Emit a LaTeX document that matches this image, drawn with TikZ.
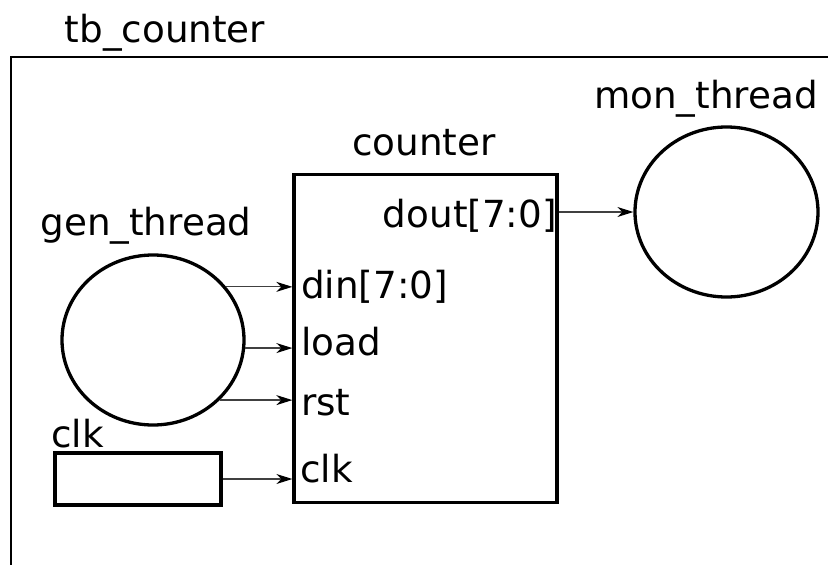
\documentclass[tikz,border=0pt]{standalone}
\usepackage{fontspec}
\setmainfont{DejaVu Sans}
\usetikzlibrary{arrows.meta,shapes.geometric}
\begin{document}
\begin{tikzpicture}[x=1pt,y=-1pt,
  lbl/.style={inner sep=0pt,font=\fontsize{37.3}{44}\selectfont},
  thread/.style={draw,line width=3.3pt,ellipse,inner sep=0pt},
  blk/.style={draw,line width=3.3pt,rectangle,inner sep=0pt},
  sig/.style={draw=black!75,line width=1.2pt,-{Stealth[length=16pt,width=10pt,inset=5pt,black]}}]
\useasboundingbox (0,0) rectangle (828,565);
% frame
\coordinate (fbl) at (11,566);
\coordinate (ftl) at (11,57);
\coordinate (ftr) at (829,57);
\draw[line width=2.2pt] (fbl) -- (ftl) -- (ftr);
\node[lbl,anchor=base] (tbl) at (165,42) {tb\_counter};
% counter block
\node[blk,minimum width=263pt,minimum height=328pt] (cnt) at (425.5,338.5) {};
\node[lbl,anchor=base] (cntl) at (424,155) {counter};
\node[lbl,anchor=base west] (pdin) at (301,298) {din[7:0]};
\node[lbl,anchor=base west] (pload) at (301,355) {load};
\node[lbl,anchor=base west] (prst) at (301,415) {rst};
\node[lbl,anchor=base west] (pclk) at (300,482) {clk};
\node[lbl,anchor=base east] (pdout) at (557,227) {dout[7:0]};
% gen thread
\node[thread,minimum width=182pt,minimum height=170pt] (gen) at (153,340) {};
\node[lbl,anchor=base] (genl) at (146,235) {gen\_thread};
% mon thread
\node[thread,minimum width=183pt,minimum height=170pt] (mon) at (726.5,212) {};
\node[lbl,anchor=base] (monl) at (706,108) {mon\_thread};
% clk box
\node[blk,minimum width=166pt,minimum height=52pt] (clk) at (138,479) {};
\node[lbl,anchor=base west] (clkl) at (51,447) {clk};
% signals
\draw[sig] (gen.36.7) -- (gen.36.7 -| cnt.west);
\draw[sig] (gen.-5) -- (gen.-5 -| cnt.west);
\draw[sig] (gen.-42.9) -- (gen.-42.9 -| cnt.west);
\draw[sig] (clk.east) -- (clk.east -| cnt.west);
\draw[sig] (mon.west -| cnt.east) -- (mon.west);
\end{tikzpicture}
\end{document}
